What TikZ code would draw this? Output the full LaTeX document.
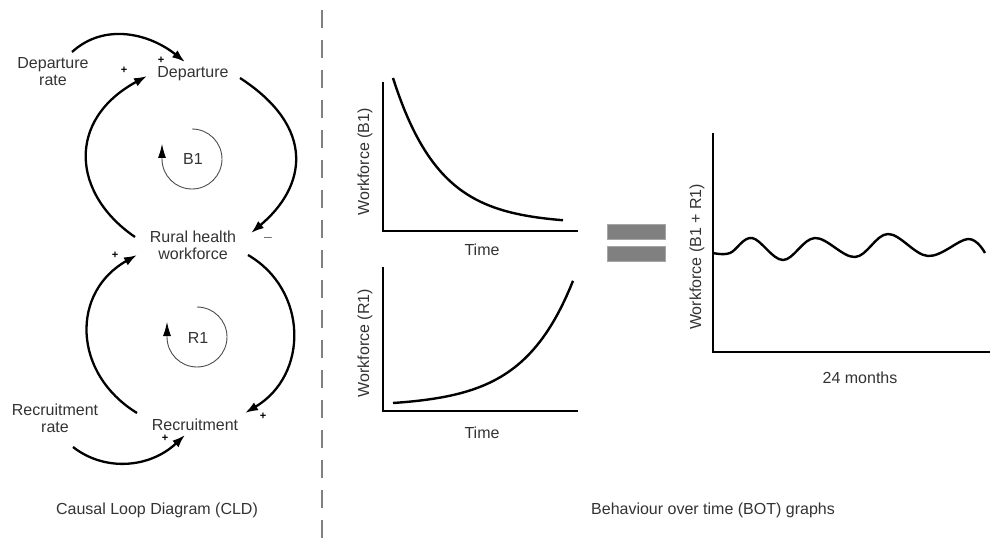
\documentclass[tikz,border=0pt]{standalone}
\usepackage{fontspec}
\setmainfont{Liberation Sans}
\usetikzlibrary{arrows.meta}
\begin{document}
\begin{tikzpicture}[x=1pt,y=1pt,
  lbl/.style={font=\fontsize{16}{17}\selectfont, text=black!80, align=center, inner sep=1pt},
  sgn/.style={font=\bfseries\fontsize{11}{11}\selectfont, inner sep=0pt},
  link/.style={line width=2.3pt, -{Latex[length=13pt,width=9pt]}},
  loopmark/.style={line width=0.9pt, draw=black!70, -{Latex[length=14pt,width=8pt,fill=black,color=black]}},
  axis/.style={line width=1.6pt},
  curve/.style={line width=2.4pt},
  eqbar/.style={fill=black!50, draw=black!35, line width=0.8pt},
  divider/.style={draw=black!50, line width=2pt, dash pattern=on 18pt off 12pt}]
\useasboundingbox (0,0) rectangle (990,544);

% divider
\draw[divider] (322,534) -- (322,0);

% CLD nodes
\node[lbl] (deprate) at (53,472) {Departure\\rate};
\node[lbl] (dep) at (193,470) {Departure};
\node[lbl] (rhw) at (193,299) {Rural health\\workforce};
\node[lbl] (rec) at (195,119) {Recruitment};
\node[lbl] (recrate) at (55,126) {Recruitment\\rate};

% CLD links
\draw[link] ([shift={(-58,8)}]rhw.center) .. controls (72,350) and (66,424) .. ([shift={(-46,-2)}]dep.center);
\draw[link] ([shift={(47,-4)}]dep.center) .. controls (317,416) and (306,357) .. ([shift={(58,12)}]rhw.center);
\draw[link] ([shift={(-58,12)}]rec.center) .. controls (72,171) and (71,252) .. ([shift={(-56,-10)}]rhw.center);
\draw[link] ([shift={(55,-10)}]rhw.center) .. controls (308,254) and (309,169) .. ([shift={(50,12)}]rec.center);
\draw[link] ([shift={(19,20)}]deprate.center) .. controls (105,522) and (150,510) .. ([shift={(-8,12)}]dep.center);
\draw[link] ([shift={(18,-29)}]recrate.center) .. controls (105,72) and (150,76) .. ([shift={(-10,-10)}]rec.center);

% polarity signs
\node[sgn] (s1) at (161,484) {+};
\node[sgn] (s2) at (124,474) {+};
\node[sgn, font=\fontsize{14}{14}\selectfont, text=black!60] (s3) at (268,305) {–};
\node[sgn] (s4) at (115,289) {+};
\node[sgn] (s5) at (263,128) {+};
\node[sgn] (s6) at (165,106) {+};

% loop markers
\node[lbl] (b1) at (193,385) {B1};
\draw[loopmark] (192,415) arc[start angle=90, end angle=-180, radius=30] -- ++(0,15);
\node[lbl] (r1) at (198,206) {R1};
\draw[loopmark] (197,237) arc[start angle=90, end angle=-180, radius=30] -- ++(0,15);

% BOT graph B1
\draw[axis] (383,462) |- (578,313);
\draw[curve] plot[domain=0:170, samples=60] ({393+\x}, {320+146*exp(-0.0215*\x)});
\node[lbl, rotate=90] (yb1) at (365,382) {Workforce (B1)};
\node[lbl] (tb1) at (482,294) {Time};

% BOT graph R1
\draw[axis] (383,277) |- (578,133);
\draw[curve] plot[domain=0:180, samples=60] ({393+\x}, {141+3.43*(exp(0.02*\x)-1)});
\node[lbl, rotate=90] (yr1) at (365,201) {Workforce (R1)};
\node[lbl] (tr1) at (482,111) {Time};

% equals sign
\draw[eqbar] (607,305) rectangle (665,320);
\draw[eqbar] (607,283) rectangle (665,298);

% combined graph
\draw[axis] (713,411) |- (990,192);
\draw[curve] plot[smooth, tension=0.6] coordinates {(713,291) (730,291) (752,306) (783,284) (815,306) (855,287) (888,310) (928,288) (968,305) (985,291)};
\node[lbl, rotate=90] (ycomb) at (697,287) {Workforce (B1 + R1)};
\node[lbl] (tcomb) at (860,166) {24 months};

% captions
\node[lbl] (cap1) at (157,34) {Causal Loop Diagram (CLD)};
\node[lbl] (cap2) at (713,34) {Behaviour over time (BOT) graphs};
\end{tikzpicture}
\end{document}
